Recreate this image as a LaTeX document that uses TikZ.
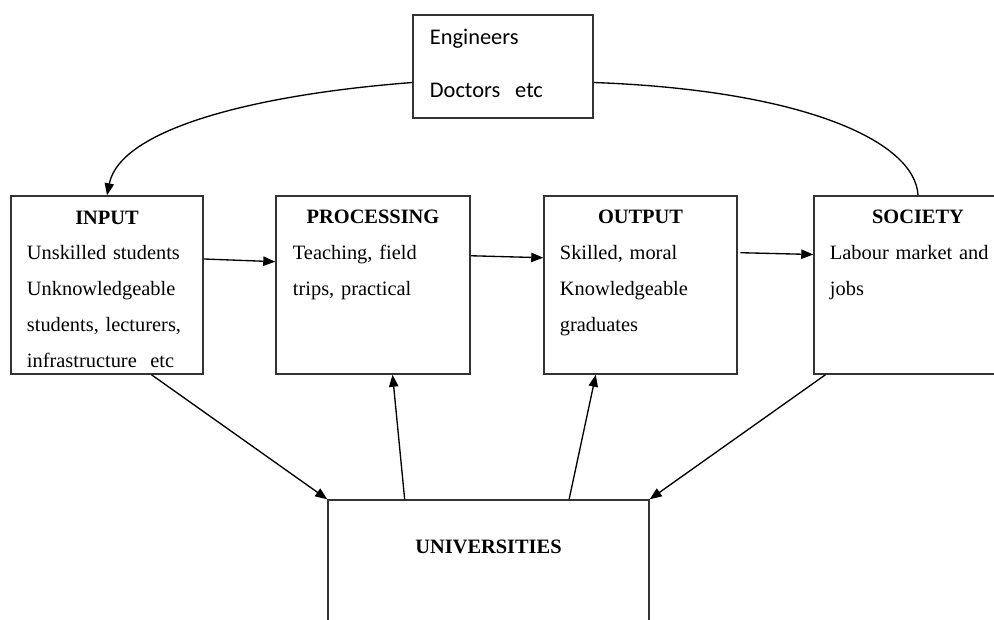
\documentclass[tikz,border=0pt]{standalone}
\usepackage{fontspec}
\setmainfont{Liberation Serif}
\newfontfamily\calibri{Carlito}
\usetikzlibrary{arrows.meta,calc}
\tikzstyle{box}=[draw=black!80, line width=1.1pt, rectangle, minimum height=133.5pt, inner sep=0pt]
\tikzstyle{heading}=[anchor=base, inner sep=0pt, font=\fontsize{15.3}{27}\selectfont\bfseries]
\tikzstyle{body}=[anchor=base west, inner sep=0pt, text width=130pt, align=left, font=\fontsize{15.3}{27}\selectfont]

\begin{document}
\begin{tikzpicture}[x=0.75pt, y=-0.75pt, >={Triangle[length=9pt,width=7pt]}, line width=1pt]
\useasboundingbox (0,0) rectangle (994,619);
\clip (0,0) rectangle (994,619);

\node[box, minimum width=135pt, minimum height=77.25pt] (eng) at (503, 66.5) {};
\node[box, minimum width=144pt] (in) at (107, 285) {};
\node[box, minimum width=145.5pt] (proc) at (373, 285) {};
\node[box, minimum width=144.75pt] (out) at (640.5, 285) {};
\node[box, minimum width=156pt] (soc) at (918, 285) {};
\node[box, minimum width=240.75pt, minimum height=120pt] (uni) at (488.5, 580) {};

\node[body, font=\calibri\fontsize{16.8}{39.75}\selectfont] (engB) at ([xshift=12.75pt, yshift=-22.5pt]eng.north west) {Engineers\\ Doctors\ \ etc};

\node[heading] (inT) at ([yshift=-21.75pt]in.north) {INPUT};
\node[heading] (procT) at ([yshift=-21pt]proc.north) {PROCESSING};
\node[heading] (outT) at ([yshift=-21pt]out.north) {OUTPUT};
\node[heading] (socT) at ([yshift=-21pt]soc.north) {SOCIETY};
\node[heading] (uniT) at ([yshift=-40.5pt]uni.north) {UNIVERSITIES};

\node[body] (inB) at ([xshift=12pt, yshift=-48pt]in.north west) {Unskilled students\\ Unknowledgeable\\ students, lecturers,\\ infrastructure\ \ etc};
\node[body] (procB) at ([xshift=12.75pt, yshift=-48pt]proc.north west) {Teaching, field\\ trips, practical};
\node[body] (outB) at ([xshift=12pt, yshift=-48pt]out.north west) {Skilled, moral\\ Knowledgeable\\ graduates};
\node[body] (socB) at ([xshift=12pt, yshift=-48pt]soc.north west) {Labour market and\\ jobs};

% along the row
\draw[->] ($(in.north east)!0.355!(in.south east)$) -- ($(proc.north west)!0.37!(proc.south west)$);
\draw[->] ($(proc.north east)!0.337!(proc.south east)$) -- ($(out.north west)!0.348!(out.south west)$);
\draw[->] ([xshift=2pt]$(out.north east)!0.32!(out.south east)$) -- ($(soc.north west)!0.33!(soc.south west)$);

% back from society
\draw[->] (eng.190) .. controls (250,95) and (120,130) .. (in.north);
\draw (eng.-10) .. controls (800,90) and (915,140) .. (soc.north);

% to and from the universities
\draw[->] ($(in.south west)!0.73!(in.south east)$) -- (uni.north west);
\draw[->] ($(uni.north west)!0.24!(uni.north east)$) -- ($(proc.south west)!0.6!(proc.south east)$);
\draw[->] ($(uni.north west)!0.75!(uni.north east)$) -- ($(out.south west)!0.27!(out.south east)$);
\draw[->] ($(soc.south west)!0.058!(soc.south east)$) -- (uni.north east);

\end{tikzpicture}
\end{document}
